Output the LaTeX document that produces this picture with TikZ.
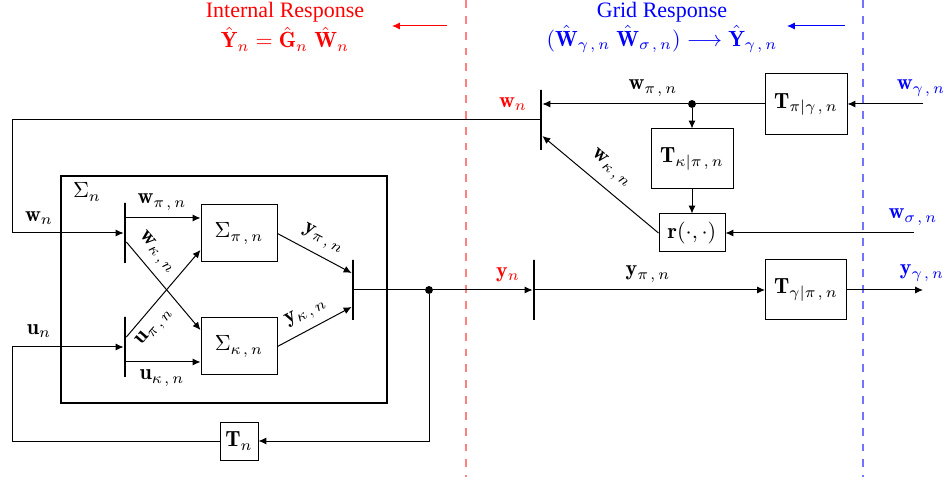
\documentclass[tikz,border=0pt]{standalone}
\usepackage{amsmath}
\usepackage{fontspec}
\newfontfamily\hdrfont{Liberation Serif}
\usetikzlibrary{arrows.meta,calc}
\def\pxs{0.4545}
\newcommand\cmm{\mkern2mu,\mkern3mu}
\begin{document}
\begin{tikzpicture}[x=0.4545pt,y=-0.4545pt,
  arr/.style={-{Latex[length=3.6pt,width=3.2pt]}, line width=0.45pt},
  ln/.style={line width=0.45pt},
  blk/.style={draw, line width=0.45pt, inner sep=0pt},
  barn/.style={draw, line width=1.25pt, inner sep=0pt, minimum width=0pt, minimum height=\pxs*60pt},
  lbl/.style={inner sep=0pt},
  dotn/.style={circle, fill, inner sep=0pt, minimum size=3.6pt},
]
\useasboundingbox (0,0) rectangle (945,483);
% headers
\node[lbl, red, font=\hdrfont] (ht1) at (285,12) {Internal Response};
\node[lbl, red] (he1) at (285,39) {$\hat{\mathbf{Y}}_n = \hat{\mathbf{G}}_n\;\hat{\mathbf{W}}_n$};
\node[lbl, blue, font=\hdrfont] (ht2) at (662,12) {Grid Response};
\node[lbl, blue] (he2) at (662,39) {$(\hat{\mathbf{W}}_{\gamma\cmm n}\;\hat{\mathbf{W}}_{\sigma\cmm n}) \longrightarrow \hat{\mathbf{Y}}_{\gamma\cmm n}$};
\coordinate (ra1) at (447,26); \coordinate (ra2) at (392,26);
\coordinate (ba1) at (845,26); \coordinate (ba2) at (787,26);
\draw[arr, red] (ra1) -- (ra2);
\draw[arr, blue] (ba1) -- (ba2);
% dashed separators
\coordinate (rd1) at (466,0); \coordinate (rd2) at (466,477);
\coordinate (bd1) at (863,0); \coordinate (bd2) at (863,477);
\draw[red!50, line width=0.75pt, dash pattern=on 3.6pt off 3.6pt] (rd1) -- (rd2);
\draw[blue!55, line width=0.75pt, dash pattern=on 3.6pt off 3.6pt] (bd1) -- (bd2);

% outer box
\node[draw, line width=1.25pt, minimum width=\pxs*326pt, minimum height=\pxs*227pt, inner sep=0pt] (outer) at (224,289.5) {};
\node[lbl] (sn) at (87,192) {$\Sigma_n$};

% bars
\node[barn] (bw) at (125,233) {};
\node[barn] (bu) at (125,347) {};
\node[barn] (bm) at (353,290) {};
\node[barn] (bwn) at (541,120) {};
\node[barn] (byn) at (534,290) {};

% blocks
\node[blk, minimum width=\pxs*76pt, minimum height=\pxs*57pt] (sp) at (239,233.5) {$\Sigma_{\pi\cmm n}$};
\node[blk, minimum width=\pxs*76pt, minimum height=\pxs*57pt] (sk) at (239,346.5) {$\Sigma_{\kappa\cmm n}$};
\node[blk, minimum width=\pxs*38pt, minimum height=\pxs*38pt] (Tn) at (239,441) {$\mathbf{T}_n$};
\node[blk, minimum width=\pxs*82pt, minimum height=\pxs*61pt] (Tpg) at (806,104.5) {$\mathbf{T}_{\pi|\gamma\cmm n}$};
\node[blk, minimum width=\pxs*82pt, minimum height=\pxs*60pt] (Tkp) at (692,159) {$\mathbf{T}_{\kappa|\pi\cmm n}$};
\node[blk, minimum width=\pxs*66pt, minimum height=\pxs*38pt] (rr) at (692,233) {$\mathbf{r}(\cdot,\cdot)$};
\node[blk, minimum width=\pxs*81pt, minimum height=\pxs*60pt] (Tgp) at (806,290) {$\mathbf{T}_{\gamma|\pi\cmm n}$};

% left part connectors
\coordinate (cwl) at (12,233);
\draw[arr] (bwn.west) -| (cwl) -- (bw.west);
\coordinate (cul) at (12,347);
\draw[arr] (Tn.west) -| (cul) -- (bu.west);

\coordinate (bw1) at ($(bw.east)+(0,-15)$);
\draw[arr] (bw1) -- (bw1 -| sp.west);
\coordinate (bw2) at ($(bw.east)+(0,9)$);
\coordinate (sk1) at ($(sk.west)+(0,-16.5)$);
\draw[arr] (bw2) -- (sk1);
\coordinate (bu1) at ($(bu.east)+(0,-10)$);
\coordinate (sp1) at ($(sp.west)+(0,16.5)$);
\draw[arr] (bu1) -- (sp1);
\coordinate (bu2) at ($(bu.east)+(0,15)$);
\draw[arr] (bu2) -- (bu2 -| sk.west);
\coordinate (bm1) at ($(bm.west)+(0,-17)$);
\coordinate (bm2) at ($(bm.west)+(0,17)$);
\draw[arr] (sp.east) -- (bm1);
\draw[arr] (sk.east) -- (bm2);

\node[dotn] (d1) at (429,290) {};
\draw[ln] (bm.east) -- (d1);
\draw[arr] (d1) -- (byn.west);
\draw[arr] (d1) |- (Tn.east);

% labels left
\node[lbl] at (39,218) {$\mathbf{w}_n$};
\node[lbl] at (39,331) {$\mathbf{u}_n$};
\node[lbl] at (162,202) {$\mathbf{w}_{\pi\cmm n}$};
\node[lbl] at (162,378) {$\mathbf{u}_{\kappa\cmm n}$};
\node[lbl, rotate=-49.5] at (157,253) {$\mathbf{w}_{\kappa\cmm n}$};
\node[lbl, rotate=49] at (155,327) {$\mathbf{u}_{\pi\cmm n}$};
\node[lbl, rotate=-28] at (323,239) {$\mathbf{y}_{\pi\cmm n}$};
\node[lbl, rotate=28] at (306,313) {$\mathbf{y}_{\kappa\cmm n}$};

% right part
\coordinate (win) at (923,104);
\draw[arr] (win) -- (Tpg.east |- win);
\coordinate (bwn1) at ($(bwn.east)+(0,-16)$);
\node[dotn] (d2) at (692,104) {};
\draw[ln] (Tpg.west |- d2) -- (d2);
\draw[arr] (d2) -- (bwn1);
\draw[arr] (d2) -- (Tkp.north);
\draw[arr] (Tkp.south) -- (rr.north);
\coordinate (wsig) at (914,233);
\draw[arr] (wsig) -- (rr.east);
\coordinate (bwn2) at ($(bwn.east)+(0,16)$);
\draw[arr] (rr.west) -- (bwn2);
\draw[arr] (byn.east) -- (Tgp.west);
\coordinate (yout) at (923,290);
\draw[arr] (Tgp.east) -- (yout);

\node[lbl, red] at (513,104) {$\mathbf{w}_n$};
\node[lbl, red] at (508,275) {$\mathbf{y}_n$};
\node[lbl] at (653,88) {$\mathbf{w}_{\pi\cmm n}$};
\node[lbl] at (648,274) {$\mathbf{y}_{\pi\cmm n}$};
\node[lbl, rotate=-40] at (611,169) {$\mathbf{w}_{\kappa\cmm n}$};
\node[lbl, blue] at (921,88) {$\mathbf{w}_{\gamma\cmm n}$};
\node[lbl, blue] at (913,217) {$\mathbf{w}_{\sigma\cmm n}$};
\node[lbl, blue] at (922,273) {$\mathbf{y}_{\gamma\cmm n}$};
\end{tikzpicture}
\end{document}
